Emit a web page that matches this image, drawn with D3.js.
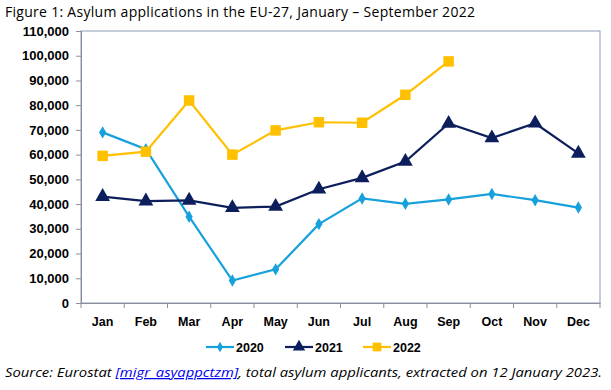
<!DOCTYPE html>
<html><head><meta charset="utf-8">
<script src="https://cdn.jsdelivr.net/npm/d3@7"></script>
<style>body{margin:0;background:#fff}svg{display:block}</style>
</head><body>
<svg id="c" width="611" height="390"></svg>
<script>
const months = ["Jan","Feb","Mar","Apr","May","Jun","Jul","Aug","Sep","Oct","Nov","Dec"];
const y2020 = [69000,62200,34900,9100,13600,31900,42300,40100,41900,44100,41600,38600];
const y2021 = [43000,41200,41500,38500,39000,46000,50600,57200,72600,66700,72700,60500];
const y2022 = [59500,61200,81900,60000,69800,73100,72900,84200,97700];
const yTicks = [0,10000,20000,30000,40000,50000,60000,70000,80000,90000,100000,110000];
const seriesNames = ["2020","2021","2022"];
const colors = ["#16a0dc","#0c1f5c","#ffc000"];

const svg = d3.select("#c");
const L=81,R=600,T=31,B=303;
const x = d3.scaleBand().domain(months).range([L,R]);
const y = d3.scaleLinear().domain([0,110000]).range([B,T]);
const font = "'Liberation Sans', Arial, sans-serif";

svg.append("text").attr("x",5).attr("y",17).attr("font-family","'Open Sans', sans-serif")
  .attr("font-size",14).attr("fill","#000").attr("textLength",470)
  .text("Figure 1: Asylum applications in the EU-27, January \u2013 September 2022");

svg.append("rect").attr("x",L).attr("y",T).attr("width",R-L).attr("height",B-T)
  .attr("fill","none").attr("stroke","#8b9bb4").attr("stroke-width",1);

const ya = svg.append("g").attr("transform",`translate(${L},0)`)
  .call(d3.axisLeft(y).tickValues(yTicks).tickFormat(d3.format(",")).tickSize(5).tickPadding(7));
ya.select(".domain").attr("stroke","#8a8f99");
ya.selectAll(".tick line").attr("stroke","#8a8f99");
ya.selectAll("text").attr("font-family",font).attr("font-weight","bold").attr("font-size",13).attr("fill","#000");

const xa = svg.append("g").attr("transform",`translate(0,${B})`)
  .call(d3.axisBottom(x).tickSize(0).tickPadding(14));
xa.select(".domain").attr("stroke","#8a8f99");
xa.selectAll("text").attr("font-family",font).attr("font-weight","bold").attr("font-size",12.5).attr("fill","#000");
xa.selectAll(".bt").data(months.concat(["end"])).enter().append("line")
  .attr("x1",(d,i)=>L+i*x.step()).attr("x2",(d,i)=>L+i*x.step())
  .attr("y1",0).attr("y2",5).attr("stroke","#8a8f99");

const data=[y2020,y2021,y2022];
const line = d3.line().x((d,i)=>x(months[i])+x.bandwidth()/2).y(d=>y(d));
const sym=[d3.symbolDiamond,d3.symbolTriangle,d3.symbolSquare];
const sizes=[45,95,110];
data.forEach((s,k)=>{
  svg.append("path").datum(s).attr("d",line).attr("fill","none").attr("stroke",colors[k]).attr("stroke-width",2.2);
  svg.selectAll(".m"+k).data(s).enter().append("path")
    .attr("transform",(d,i)=>`translate(${x(months[i])+x.bandwidth()/2},${y(d)})`)
    .attr("d",d3.symbol().type(sym[k]).size(sizes[k])).attr("fill",colors[k]);
});

const lx=[206,285,363];
seriesNames.forEach((n,k)=>{
  const g=svg.append("g").attr("transform",`translate(${lx[k]},347)`);
  g.append("line").attr("x1",0).attr("x2",28).attr("stroke",colors[k]).attr("stroke-width",2.2);
  g.append("path").attr("transform","translate(14,0)").attr("d",d3.symbol().type(sym[k]).size(sizes[k]*0.7)).attr("fill",colors[k]);
  g.append("text").attr("x",30).attr("y",4.5).attr("font-family",font).attr("font-weight","bold").attr("font-size",12.5).text(n);
});

const src=svg.append("text").attr("x",5).attr("y",377).attr("font-family","'Open Sans', sans-serif")
  .attr("font-size",12.5).attr("font-style","italic").attr("textLength",597).attr("lengthAdjust","spacingAndGlyphs");
src.append("tspan").text("Source: Eurostat ");
src.append("tspan").attr("fill","#0000ee").attr("text-decoration","underline").text("[migr_asyappctzm]");
src.append("tspan").text(", total asylum applicants, extracted on 12 January 2023.");
</script>
</body></html>
